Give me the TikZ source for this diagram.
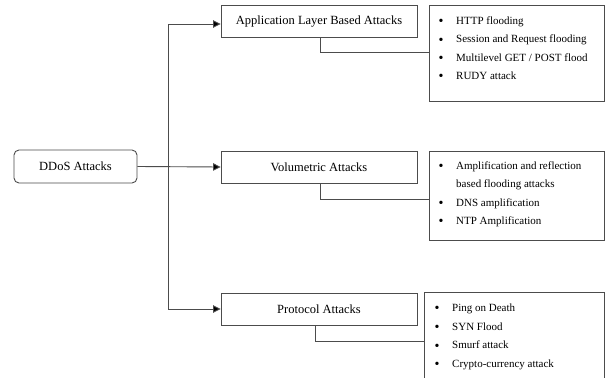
\documentclass[tikz,border=0pt]{standalone}
\usepackage{fontspec}
\setmainfont{Liberation Serif}
\usetikzlibrary{arrows.meta,calc}
\tikzset{
  box/.style={draw=black!70, line width=0.9pt, fill=white, minimum width=196pt, minimum height=32pt, inner sep=0pt, font=\fontsize{12.5}{14}\selectfont},
  listbox/.style={draw=black!70, line width=0.9pt, minimum width=175pt, inner sep=0pt},
  conn/.style={draw=black!70, line width=0.9pt},
  arr/.style={conn, -{Triangle[length=7.5pt,width=7.5pt,fill=black]}},
  itemtext/.style={anchor=base west, inner sep=0pt, align=left, font=\fontsize{11}{18.4}\selectfont},
}
\newcommand{\bul}{\makebox[17pt][l]{\hspace*{-0.5pt}\raisebox{-1.2pt}{\fontsize{14}{14}\selectfont\textbullet}}}
\begin{document}
\begin{tikzpicture}[x=1pt,y=-1pt]
\clip (0,0) rectangle (606,378);
\fill[white] (0,0) rectangle (606,378);
% main boxes
\node[box, rounded corners=5pt, minimum width=123pt, minimum height=33pt] (ddos) at (75.5,166.5) {DDoS Attacks};
\node[box] (app) at (319,21.5) {Application Layer Based Attacks};
\node[box] (vol) at (319,167) {Volumetric Attacks};
\node[box] (prot) at (319,309) {Protocol Attacks};
% list boxes
\node[listbox, minimum height=96pt] (applist) at (516.5,53) {};
\node[listbox, minimum height=89pt] (vollist) at (516.5,195.5) {};
\node[listbox, minimum width=180pt, minimum height=98pt] (protlist) at (514,341) {};
% list texts
\node[itemtext] (apptext) at (439,24.5) {\begin{tabular}[t]{@{}l@{}}\bul HTTP flooding\\ \bul Session and Request flooding\\ \bul Multilevel GET / POST flood\\ \bul RUDY attack\end{tabular}};
\node[itemtext] (voltext) at (439,169.3) {\begin{tabular}[t]{@{}l@{}}\bul Amplification and reflection\\ \hspace*{17pt}based flooding attacks\\ \bul DNS amplification\\ \bul NTP Amplification\end{tabular}};
\node[itemtext, font=\fontsize{11}{18.6}\selectfont] (prottext) at (435,311.7) {\begin{tabular}[t]{@{}l@{}}\bul Ping on Death\\ \bul SYN Flood\\ \bul Smurf attack\\ \bul Crypto-currency attack\end{tabular}};
% connectors
\coordinate (j) at (168,166.5);
\draw[arr] (ddos.east) -- (vol.west);
\draw[arr] (j) |- ([yshift=-2.5pt]app.west);
\draw[arr] (j) |- (prot.west);
\draw[conn] ([xshift=1pt]app.south) |- ([yshift=1pt]applist.west);
\draw[conn] ([xshift=1pt]vol.south) |- ([yshift=-3.5pt]vollist.west);
\draw[conn] ([xshift=-4pt]prot.south) |- (protlist.west);
\end{tikzpicture}
\end{document}
